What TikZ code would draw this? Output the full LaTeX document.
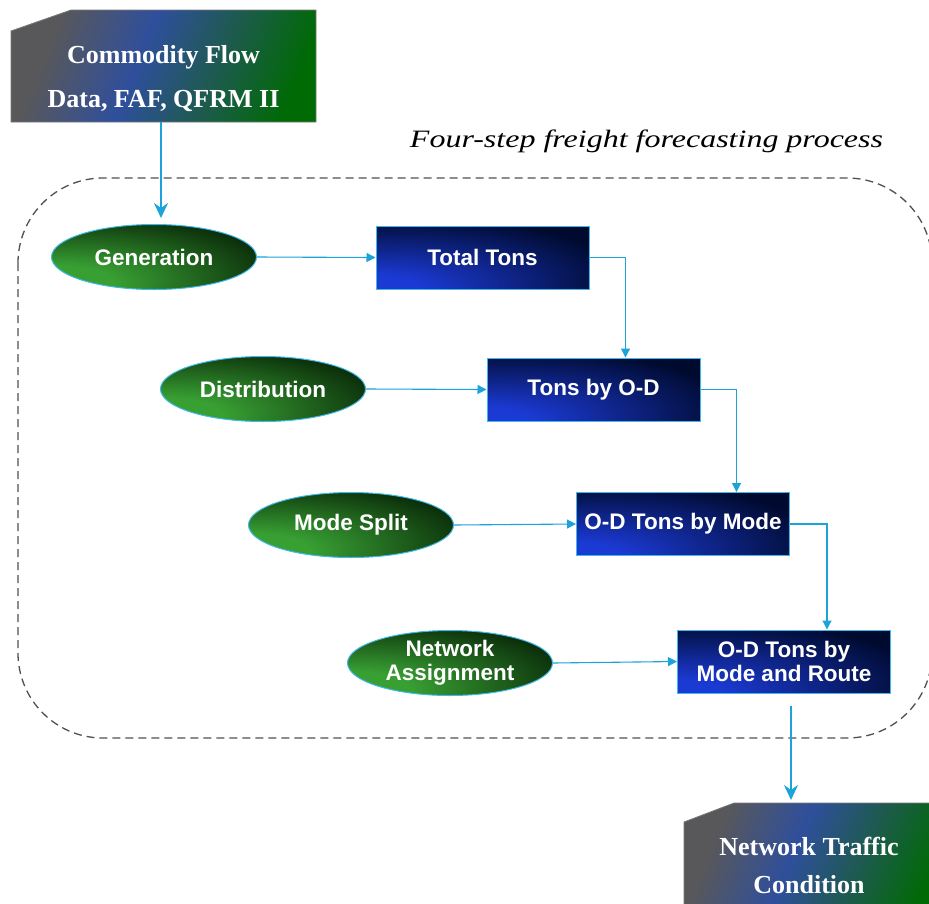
\documentclass[tikz,border=0pt]{standalone}
\usepackage{fontspec}
\setmainfont{Liberation Serif}
\newfontfamily\arialb{Liberation Sans}
\newfontfamily\titlefont{Liberation Serif}[FakeStretch=1.28]
\usetikzlibrary{shapes.geometric,arrows.meta}
\definecolor{cfgray}{HTML}{58585A}
\definecolor{cfblue}{HTML}{2F4F9C}
\definecolor{cfteal}{HTML}{1E5A50}
\definecolor{cfgreen}{HTML}{006A05}
\definecolor{rbright}{HTML}{1B3AD4}
\definecolor{rdark}{HTML}{000A2E}
\definecolor{glight}{HTML}{38A033}
\definecolor{gdark}{HTML}{011401}
\definecolor{conncol}{HTML}{1BA3DA}
\definecolor{bordcol}{HTML}{3DB8E8}
\definecolor{dashcol}{HTML}{505050}
\pgfdeclarehorizontalshading{cfshade}{100bp}{color(0bp)=(cfgray); color(27bp)=(cfgray); color(45bp)=(cfblue); color(60bp)=(cfteal); color(76bp)=(cfgreen); color(100bp)=(cfgreen)}
\pgfdeclareradialshading{rectshade}{\pgfpoint{-30bp}{-30bp}}{color(0bp)=(rbright); color(12bp)=(rbright); color(48bp)=(rdark); color(100bp)=(rdark)}
\pgfdeclareradialshading{ellshade}{\pgfpoint{-28bp}{-24bp}}{color(0bp)=(glight); color(14bp)=(glight); color(52bp)=(gdark); color(100bp)=(gdark)}
\tikzset{
  stepell/.style={ellipse, minimum width=205pt, minimum height=65pt, inner sep=0pt,
    shading=ellshade, draw=bordcol, line width=1pt, text=white,
    font=\arialb\bfseries\fontsize{22.5}{24}\selectfont, align=center},
  steprect/.style={rectangle, minimum width=213pt, minimum height=63pt, inner sep=0pt,
    shading=rectshade, draw=bordcol, line width=1pt, text=white,
    font=\arialb\bfseries\fontsize{22.5}{24}\selectfont, align=center},
  databox/.style={shading=cfshade, shading angle=-22, draw=cfgray!80, line width=0.8pt},
  serifw/.style={text=white, align=center},
  conn/.style={draw=conncol, line width=1.1pt, -{Triangle[length=9pt,width=9pt]}},
  bigconn/.style={draw=conncol, line width=2pt, -{Stealth[length=15pt,width=14pt,inset=5pt]}},
  procbox/.style={draw=dashcol, line width=1.3pt, dash pattern=on 8pt off 5pt, rounded corners=85pt}
}
\begin{document}
\begin{tikzpicture}[x=1pt,y=1pt]
\clip (0,0) rectangle (929,-903);
\fill[white] (0,0) rectangle (929,-903);
% process frame
\draw[procbox] (18,-178) rectangle (932,-738);
\node[font=\titlefont\itshape\fontsize{25}{28}\selectfont] (title) at (646.5,-141) {Four-step freight forecasting process};
% data boxes
\shade[databox] (11,-31) -- (71,-10) -- (316,-10) -- (316,-122) -- (11,-122) -- cycle;
\coordinate (cfs) at (161,-122);
\node[serifw, font=\bfseries\fontsize{26}{44}\selectfont] (cftext) at (163.5,-79) {Commodity Flow\\Data, FAF, QFRM II};
\shade[databox] (684,-822) -- (734,-803) -- (945,-803) -- (945,-915) -- (684,-915) -- cycle;
\coordinate (ntcn) at (791,-803);
\node[serifw, font=\bfseries\fontsize{26}{38}\selectfont] (ntc) at (809,-865) {Network Traffic\\Condition};
% steps
\node[stepell] (gen) at (154,-257) {Generation};
\node[stepell] (dist) at (263,-389) {Distribution};
\node[stepell] (ms) at (351,-525) {Mode Split};
\node[stepell] (na) at (450,-663) {Network\\Assignment};
\node[steprect] (tt) at (482.5,-257.5) {Total Tons};
\node[steprect] (od) at (593.5,-389.5) {Tons by O-D};
\node[steprect] (odm) at (683,-524) {O-D Tons by Mode};
\node[steprect] (odr) at (784,-661.5) {O-D Tons by\\Mode and Route};
% connectors
\draw[bigconn, shorten >=6pt] (cfs) -- (cfs |- gen.north);
\draw[conn] (gen.east) -- (tt.west);
\draw[conn] (dist.east) -- (od.west);
\draw[conn] (ms.east) -- (odm.west);
\draw[conn] (na.east) -- (odr.west);
\draw[conn] (tt.east) -- ([xshift=36pt]tt.east) -- ([xshift=36pt]tt.east |- od.north);
\draw[conn] (od.east) -- ([xshift=36pt]od.east) -- ([xshift=36pt]od.east |- odm.north);
\draw[conn] (odm.east) -- ([xshift=37pt]odm.east) -- ([xshift=37pt]odm.east |- odr.north);
\draw[bigconn, shorten <=12pt, shorten >=3pt] (odr.south -| ntcn) -- (ntcn);
\end{tikzpicture}
\end{document}
